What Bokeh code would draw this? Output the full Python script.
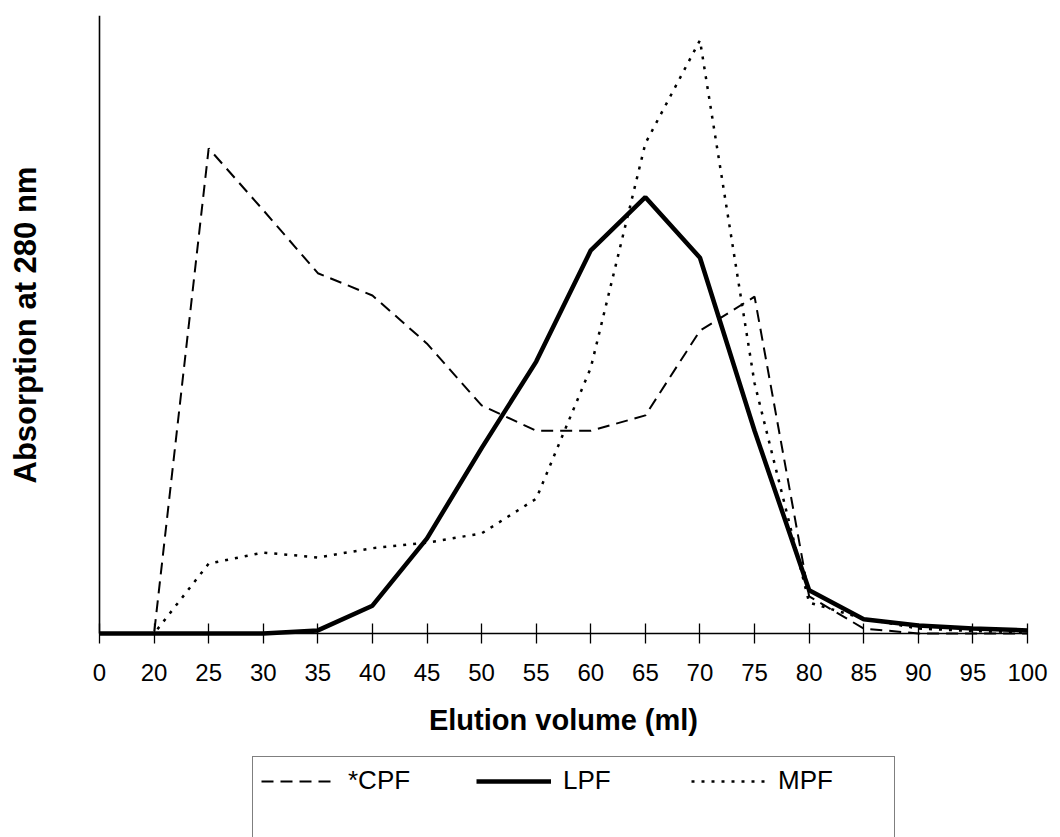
from bokeh.plotting import figure
from bokeh.models import Range1d, FixedTicker, Legend, LegendItem, Title
from bokeh.embed import file_html
from bokeh.resources import INLINE

# ---- data ----
volumes = ["0", "20", "25", "30", "35", "40", "45", "50", "55", "60",
           "65", "70", "75", "80", "85", "90", "95", "100"]
cpf = [0.0, 0.0, 0.785, 0.685, 0.583, 0.547, 0.469, 0.369, 0.328, 0.328,
       0.353, 0.490, 0.545, 0.060, 0.008, 0.0, 0.0, 0.0]
lpf = [0.0, 0.0, 0.0, 0.0, 0.005, 0.045, 0.154, 0.300, 0.440, 0.620,
       0.706, 0.608, 0.328, 0.070, 0.023, 0.013, 0.008, 0.005]
mpf = [0.0, 0.0, 0.113, 0.131, 0.123, 0.138, 0.147, 0.162, 0.218, 0.430,
       0.793, 0.960, 0.405, 0.050, 0.024, 0.008, 0.004, 0.002]
series_names = ["*CPF", "LPF", "MPF"]

x_title = "Elution volume (ml)"
y_title = "Absorption at 280 nm"

xs = list(range(len(volumes)))
FONT = "Liberation Sans"

# frame covers most of the canvas; both axes are pinned at 0
p = figure(width=1060, height=837, output_backend="svg", toolbar_location=None,
           x_range=Range1d(-0.9709, 17.6045), y_range=Range1d(-0.3301, 1.0),
           min_border_left=46, min_border_right=0, min_border_top=15,
           min_border_bottom=0)
p.outline_line_color = None
p.xgrid.visible = False
p.ygrid.visible = False
p.background_fill_color = "white"
p.border_fill_color = "white"

# x axis
xa = p.xaxis[0]
xa.fixed_location = 0
xa.bounds = (0, len(volumes) - 1)
xa.ticker = FixedTicker(ticks=xs)
xa.major_label_overrides = {i: v for i, v in enumerate(volumes)}
xa.axis_line_color = "black"
xa.axis_line_width = 1.4
xa.major_tick_in = 10
xa.major_tick_out = 10
xa.major_tick_line_color = "black"
xa.major_tick_line_width = 1.3
xa.minor_tick_line_color = None
xa.major_label_standoff = 21
xa.major_label_text_font = FONT
xa.major_label_text_font_size = "24px"
xa.major_label_text_color = "black"
xa.axis_label = x_title
xa.axis_label_text_font = FONT
xa.axis_label_text_font_style = "bold"
xa.axis_label_text_font_size = "29px"
xa.axis_label_text_color = "black"
xa.axis_label_standoff = 19

# y axis (line only)
ya = p.yaxis[0]
ya.fixed_location = 0
ya.bounds = (0, 1.0)
ya.ticker = FixedTicker(ticks=[])
ya.axis_line_color = "black"
ya.axis_line_width = 1.6
ya.major_tick_line_color = None
ya.minor_tick_line_color = None

# y axis title as a side-panel title, shifted along the panel
p.add_layout(Title(text=y_title, align="left", offset=354, text_font=FONT,
                   text_font_style="bold", text_font_size="31px",
                   text_color="black", standoff=8), "left")

# series
r_cpf = p.line(xs, cpf, line_color="black", line_width=2, line_dash="12 7")
r_lpf = p.line(xs, lpf, line_color="black", line_width=4.5)
r_mpf = p.line(xs, mpf, line_color="black", line_width=2.5, line_dash="3 7")
r_dummy = p.line([0], [0], line_alpha=0)

legend = Legend(
    items=[LegendItem(label=series_names[0], renderers=[r_cpf]),
           LegendItem(label=series_names[1], renderers=[r_lpf]),
           LegendItem(label=series_names[2], renderers=[r_mpf]),
           LegendItem(label=" ", renderers=[r_dummy])],
    orientation="horizontal", ncols=3,
    location=(206, -8),
    glyph_width=75, glyph_height=20, label_height=20, label_width=108,
    label_standoff=12, spacing=20, padding=8, margin=0,
    label_text_font=FONT, label_text_font_size="26px", label_text_color="black",
    border_line_color="black", border_line_width=1.5,
    background_fill_color="white", background_fill_alpha=1.0,
)
p.add_layout(legend, "center")

open("out.html", "w").write(file_html(p, INLINE))
